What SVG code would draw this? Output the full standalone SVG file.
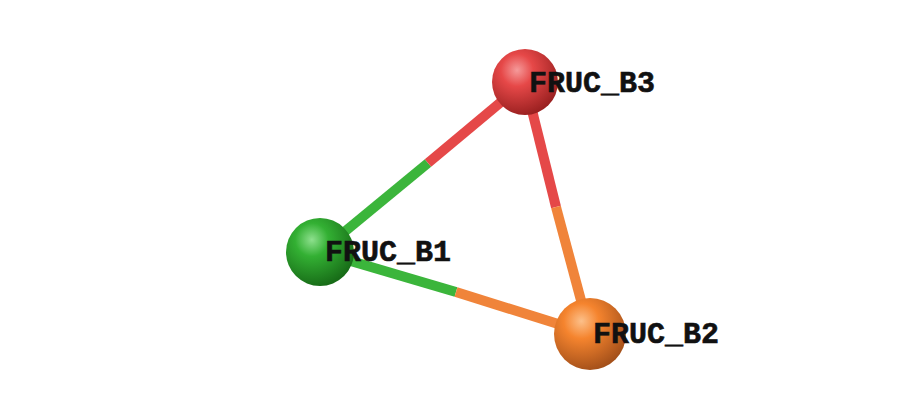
<svg xmlns="http://www.w3.org/2000/svg" width="910" height="413" viewBox="0 0 910 413">
<style>
.b{stroke-width:10;stroke-linecap:butt}
.t{font-family:"Courier New","Liberation Mono",monospace;font-weight:bold;font-size:30px;fill:#111;stroke:#111;stroke-width:0.6}
</style>
<defs>
<radialGradient id="gR" cx="0.38" cy="0.32" r="0.7"><stop offset="0" stop-color="#f59a9a"/><stop offset="0.35" stop-color="#e64848"/><stop offset="1" stop-color="#9a2020"/></radialGradient>
<radialGradient id="gG" cx="0.38" cy="0.32" r="0.7"><stop offset="0" stop-color="#8ee08e"/><stop offset="0.35" stop-color="#33b033"/><stop offset="1" stop-color="#176b17"/></radialGradient>
<radialGradient id="gO" cx="0.38" cy="0.32" r="0.7"><stop offset="0" stop-color="#fcc08a"/><stop offset="0.35" stop-color="#f5842e"/><stop offset="1" stop-color="#a4501a"/></radialGradient>
</defs>
<g id="connectors">
<line class="b" x1="320" y1="252" x2="428" y2="163" stroke="#3bb53b"/>
<line class="b" x1="428" y1="163" x2="525" y2="82" stroke="#e54848"/>
<line class="b" x1="525" y1="82" x2="556" y2="207" stroke="#e54848"/>
<line class="b" x1="556" y1="207" x2="590" y2="334" stroke="#f0843a"/>
<line class="b" x1="320" y1="252" x2="456" y2="292" stroke="#3bb53b"/>
<line class="b" x1="456" y1="292" x2="590" y2="334" stroke="#f0843a"/>
</g>
<g id="FRUC_B3"><circle cx="525" cy="82" r="33" fill="url(#gR)"/><text class="t" x="529" y="92">FRUC_B3</text></g>
<g id="FRUC_B1"><circle cx="320" cy="252" r="34" fill="url(#gG)"/><text class="t" x="325" y="261">FRUC_B1</text></g>
<g id="FRUC_B2"><circle cx="590" cy="334" r="36" fill="url(#gO)"/><text class="t" x="593" y="343">FRUC_B2</text></g>
</svg>
